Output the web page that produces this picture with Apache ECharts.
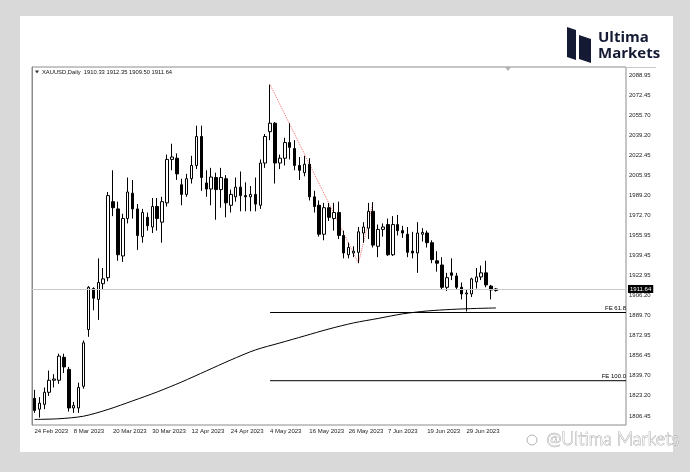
<!DOCTYPE html>
<html><head><meta charset="utf-8">
<script src="https://cdn.jsdelivr.net/npm/echarts@6/dist/echarts.min.js"></script>
<style>
html,body{margin:0;padding:0;background:#d9d9d9;}
#card{position:absolute;left:20px;top:16px;width:653px;height:436px;background:#fff;}
#c{position:absolute;left:0;top:0;width:690px;height:472px;}
</style>
</head><body><div id="card"></div><div id="c"></div>
<script>
const symbol = 'XAUUSD,Daily';
const dates = ['24 Feb 2023','27 Feb 2023','28 Feb 2023','1 Mar 2023','2 Mar 2023','3 Mar 2023','6 Mar 2023','7 Mar 2023','8 Mar 2023','9 Mar 2023','10 Mar 2023','13 Mar 2023','14 Mar 2023','15 Mar 2023','16 Mar 2023','17 Mar 2023','20 Mar 2023','21 Mar 2023','22 Mar 2023','23 Mar 2023','24 Mar 2023','27 Mar 2023','28 Mar 2023','29 Mar 2023','30 Mar 2023','31 Mar 2023','3 Apr 2023','4 Apr 2023','5 Apr 2023','6 Apr 2023','10 Apr 2023','11 Apr 2023','12 Apr 2023','13 Apr 2023','14 Apr 2023','17 Apr 2023','18 Apr 2023','19 Apr 2023','20 Apr 2023','21 Apr 2023','24 Apr 2023','25 Apr 2023','26 Apr 2023','27 Apr 2023','28 Apr 2023','1 May 2023','2 May 2023','3 May 2023','4 May 2023','5 May 2023','8 May 2023','9 May 2023','10 May 2023','11 May 2023','12 May 2023','15 May 2023','16 May 2023','17 May 2023','18 May 2023','19 May 2023','22 May 2023','23 May 2023','24 May 2023','25 May 2023','26 May 2023','29 May 2023','30 May 2023','31 May 2023','1 Jun 2023','2 Jun 2023','5 Jun 2023','6 Jun 2023','7 Jun 2023','8 Jun 2023','9 Jun 2023','12 Jun 2023','13 Jun 2023','14 Jun 2023','15 Jun 2023','16 Jun 2023','19 Jun 2023','20 Jun 2023','21 Jun 2023','22 Jun 2023','23 Jun 2023','26 Jun 2023','27 Jun 2023','28 Jun 2023','29 Jun 2023','30 Jun 2023','3 Jul 2023','4 Jul 2023','5 Jul 2023','6 Jul 2023','7 Jul 2023'];
const open  = [1821,1812,1816,1826,1836,1836,1855,1845,1813,1813,1831,1878,1912,1903,1916,1921,1984,1978,1939,1970,1991,1978,1955,1971,1963,1980,1967,1983,2019,2020,1998,1990,2003,2014,2038,1999.5,1994.5,2004,1994,2003,1981,1988,1996,1989,1988,1990,1981,2016,2042,2049,2016,2020,2033,2028,2014,2008,2015,1988,1981,1957,1979,1970,1975,1956,1940,1941.5,1942,1958,1962,1976,1947,1961,1965,1940,1965,1960,1957,1943,1941.5,1957,1958,1950,1935,1931.5,1913,1925,1922.4,1913,1907.5,1907.5,1917.5,1921.6,1925,1914,1910.33];
const close = [1811,1817,1826,1836,1837,1856,1847,1813,1815,1830,1867,1913,1904,1917,1920,1989,1979,1940,1970,1992,1978,1956,1975,1964,1980,1970,1984,2019,2021,2007,1990,2003,2014,2038,2004,1994.5,2004.4,1994,2004,1983,1990,1996,1989,1988,1990,1982,2016,2038,2049,2016,2020,2033,2029,2014,2010,2015,1988,1980,1957,1979,1971,1975,1956,1941.5,1946,1943,1959,1963,1976,1948,1961,1963,1940,1965,1960,1958,1942,1941.5,1958,1958.5,1950,1936,1933,1913,1921,1923,1913,1907.5,1908.3,1920,1921.6,1925,1915,1910.8,1911.64];
const low   = [1809,1805,1812,1823,1830,1833,1842,1810,1809,1809,1829,1872,1894,1886,1911,1918,1972,1935,1934,1966,1970,1944,1950,1960,1958,1960,1950,1980,2010,2002,1981,1988,1999,2011,1993,1988,1981,1969,1979,1971,1975,1984,1976,1976,1976,1976,1978,2012,2035,1999,2011,2014,2019,2010,2002,2005,1985,1975,1955,1952,1968,1960,1953,1937,1937,1938,1933,1950,1953,1946,1938,1955,1939,1939,1956,1954,1938,1937,1925,1951,1946,1933,1926,1911,1910,1919,1911,1903,1893,1905,1912,1919,1913,1903,1909.50];
const high  = [1828,1822,1830,1844,1841,1858,1858,1847,1818,1834,1869,1914,1913,1937,1929,1992,2010,1984,1974,2004,2002,1982,1978,1975,1987,1987,1988,2023,2032,2024,2003,2007,2022,2047,2047,2010,2012,2008,2012,2006,1994,2004,2009,2000,1997,2004,2019,2040,2081,2050,2023,2037,2049,2035,2021,2022,2020,1993,1985,1983,1983,1983,1984,1960,1950,1947,1963,1967,1983,1983.6,1965,1966,1970,1972,1973,1964,1963,1959,1967,1962,1960,1952,1943,1938,1925,1937,1925,1917,1911,1921,1929,1931,1935,1915,1912.35];
// moving average read at sampled bars
const maIndex = [0,5,10,15,20,25,30,35,40,45,50,55,60,65,70,75,80,85,90,94];
const maValue = [1803.5,1804.1,1806.2,1811.8,1818.9,1826.3,1834.6,1843.7,1852.8,1861.1,1866.9,1872.7,1878.5,1883.5,1887.2,1891.0,1893.4,1894.7,1895.5,1895.9];
const yTicks = [2088.95,2072.45,2055.70,2039.20,2022.45,2005.95,1989.20,1972.70,1955.95,1939.45,1922.95,1906.20,1889.70,1872.95,1856.45,1839.70,1823.20,1806.45];
// Fibonacci expansion anchor bars: A (high), B (low), C (high)
const feA = 48, feB = 66, feC = 69;
const feLevels = [61.8, 100.0];

const N = 121; // total slots incl. chart shift
const cats = dates.concat(Array(N - dates.length).fill(''));
const candles = dates.map((d,i)=>[open[i], close[i], low[i], high[i]]);
const last = dates.length - 1;
const A = high[feA], B = low[feB], C = high[feC];
const font = 'Liberation Sans';

const feSeries = feLevels.map(l => {
  const v = C - (A - B) * l / 100;
  return {type:'line', xAxisIndex:1, yAxisIndex:0, data:[[feA+0.5, v],[N, v]], symbol:'none', silent:true,
    lineStyle:{color:'#000', width:1}, z:3,
    endLabel:{show:true, formatter:'FE ' + l.toFixed(1), distance:0, align:'right', offset:[0,-4],
      fontSize:6, color:'#000', fontFamily:font}};
});

const chart = echarts.init(document.getElementById('c'), null, {renderer:'canvas'});
chart.setOption({
  backgroundColor:'transparent',
  animation:false,
  grid:{left:32, top:67, width:594, height:358, show:true, borderColor:'#8c8c8c', borderWidth:1, backgroundColor:'transparent'},
  xAxis:[
    {type:'category', data:cats, boundaryGap:true, axisLine:{show:false}, axisTick:{show:false}, splitLine:{show:false},
     axisLabel:{interval:(i)=> i % 8 === 0 && i < dates.length - 4, align:'left', fontSize:6, color:'#222', margin:3, fontFamily:font}},
    {type:'value', min:0, max:N, show:false}
  ],
  yAxis:{type:'value', position:'right', min:1798.9, max:2095.6,
    axisLine:{show:true, lineStyle:{color:'#8c8c8c'}}, axisTick:{show:false}, splitLine:{show:false},
    axisLabel:{customValues:yTicks, formatter:(v)=>v.toFixed(2), fontSize:6, color:'#222', margin:3, fontFamily:font}},
  graphic:[
    {type:'line', shape:{x1:626, y1:67.5, x2:656, y2:67.5}, style:{stroke:'#c8c8c8', lineWidth:1}},
    {type:'polygon', shape:{points:[[35,70.5],[39,70.5],[37,73.5]]}, style:{fill:'#333'}},
    {type:'text', left:42, top:69, style:{text: symbol + '  ' + [open[last],high[last],low[last],close[last]].map(v=>v.toFixed(2)).join(' '), fontSize:5.8, fill:'#111', fontFamily:font}},
    {type:'polygon', shape:{points:[[505,67],[511,67],[508,71]]}, style:{fill:'#b0b0b0'}},
    // logo
    {type:'polygon', shape:{points:[[567,27],[576,30],[576,60],[567,57]]}, style:{fill:'#141a33'}},
    {type:'polygon', shape:{points:[[579,35],[591,39],[591,63],[579,59]]}, style:{fill:'#141a33'}},
    {type:'text', left:598, top:30, style:{text:'Ultima', fontSize:15, fontWeight:'bold', fill:'#141a33', fontFamily:'Open Sans'}},
    {type:'text', left:598, top:46, style:{text:'Markets', fontSize:15, fontWeight:'bold', fill:'#141a33', fontFamily:'Open Sans'}},
    // watermark
    {type:'circle', shape:{cx:532, cy:440, r:5}, style:{fill:'none', stroke:'#b5b5b5', lineWidth:1}},
    {type:'text', left:546, top:430, style:{text:'@Ultima Markets', fontSize:18, fontWeight:300, fill:'#fff', stroke:'#9a9a9a', lineWidth:0.8, fontFamily:'Lato'}}
  ],
  series:[
    {type:'candlestick', data:candles, barWidth:3, z:4,
     itemStyle:{color:'#fff', color0:'#000', borderColor:'#000', borderColor0:'#000', borderWidth:1},
     markLine:{silent:true, symbol:'none', lineStyle:{color:'#c8c8c8', width:1, type:'solid'},
       data:[{yAxis:close[last]}],
       label:{show:true, position:'end', distance:2, formatter:()=>close[last].toFixed(2), backgroundColor:'#000', color:'#fff', padding:[1,2,1,2], fontSize:6, fontFamily:font}}},
    {type:'line', xAxisIndex:1, data:maIndex.map((k,j)=>[k+0.5, maValue[j]]), symbol:'none', smooth:0.3, lineStyle:{color:'#000', width:1}, z:3},
    {type:'line', xAxisIndex:1, data:[[feA+0.5,A],[feB+0.5,B],[feC+0.5,C]], symbol:'none', lineStyle:{color:'#f26a6a', width:1, type:'dotted'}, z:2}
  ].concat(feSeries)
});
</script></body></html>
